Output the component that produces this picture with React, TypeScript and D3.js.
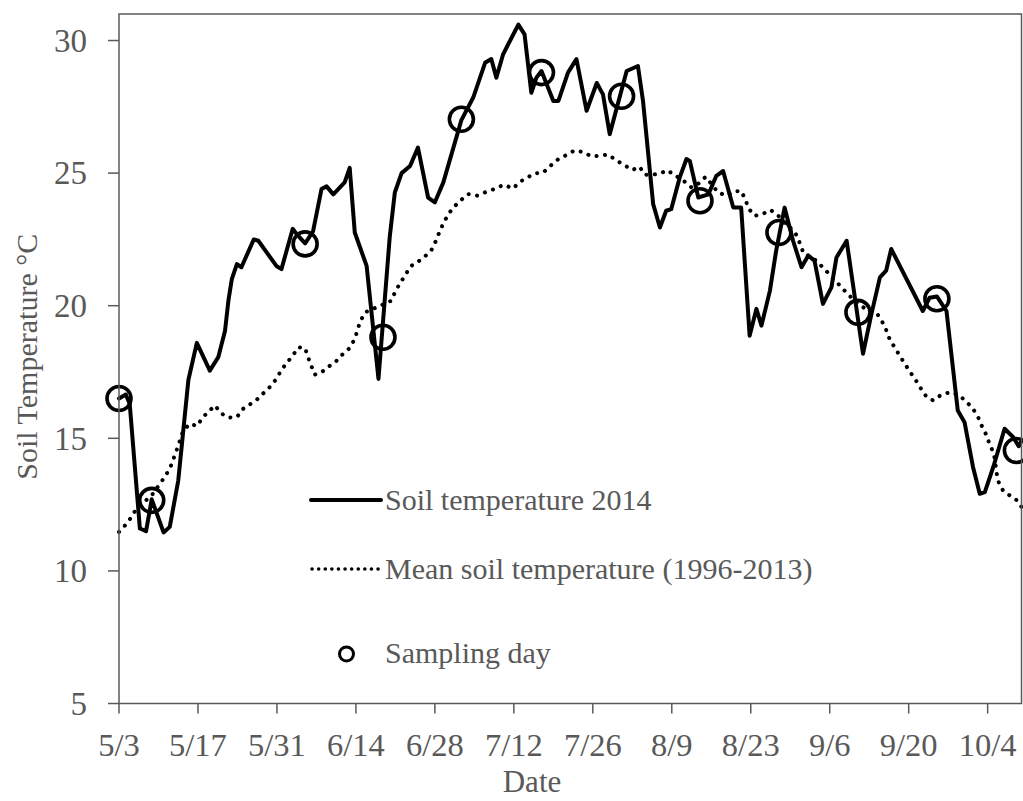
import React from "react";
import * as d3 from "d3";

// ---- data (days counted from 3 May 2014) ----
const soilDays = [0, 1.2, 1.9, 3.7, 4.8, 5.8, 7.9, 9, 10.5, 12.3, 13.8, 16.1, 17.6, 18.8, 19.4, 20, 20.9, 21.7, 23.9, 24.7, 27.9, 28.8, 30.8, 31.5, 33, 34.4, 35.9, 36.8, 38, 40, 40.9, 41.8, 43.9, 46, 48, 48.9, 50.1, 51.6, 53, 54.8, 56, 57.5, 60.7, 62.8, 64.9, 66, 66.9, 68.1, 69, 70.8, 71.9, 73.1, 74, 74.9, 77, 77.9, 79.6, 81.1, 82.9, 84.7, 85.8, 87, 90, 92, 92.9, 94.7, 95.9, 97, 97.9, 99.4, 100.6, 101.2, 102.7, 104.5, 105.9, 107.1, 108.9, 110.3, 111.8, 113, 113.9, 115.4, 116.5, 118, 119.5, 121, 122.2, 123.3, 124.8, 126.3, 127.2, 129, 131.9, 133.4, 134.9, 136, 136.9, 142.5, 143.7, 145, 146.7, 148.7, 149.9, 151.4, 152.6, 153.5, 155, 157, 158.5, 159.5, 160];
const soilTemps = [16.5, 16.65, 16.3, 11.6, 11.5, 12.7, 11.45, 11.66, 13.4, 17.2, 18.6, 17.55, 18.06, 19.06, 20.2, 21.0, 21.57, 21.45, 22.5, 22.45, 21.5, 21.38, 22.9, 22.7, 22.35, 22.8, 24.4, 24.5, 24.2, 24.65, 25.2, 22.76, 21.5, 17.24, 22.6, 24.27, 25.0, 25.27, 25.96, 24.08, 23.9, 24.65, 27.0, 27.85, 29.16, 29.3, 28.6, 29.48, 29.86, 30.6, 30.23, 28.03, 28.6, 28.85, 27.72, 27.72, 28.79, 29.3, 27.35, 28.4, 27.97, 26.47, 28.85, 29.04, 27.72, 23.83, 22.95, 23.58, 23.64, 24.83, 25.53, 25.46, 24.08, 24.2, 24.9, 25.08, 23.7, 23.7, 18.87, 19.88, 19.25, 20.57, 22.07, 23.7, 22.45, 21.45, 21.89, 21.7, 20.07, 20.69, 21.82, 22.45, 18.19, 19.69, 21.07, 21.32, 22.14, 19.8, 20.3, 20.35, 19.8, 16.05, 15.61, 13.92, 12.91, 12.97, 13.92, 15.36, 15.05, 14.7, 14.9];

const meanDays = [0, 1.1, 2.2, 3.1, 5.8, 7.9, 9, 10.2, 11.4, 12.6, 13.8, 14.9, 16.1, 17, 18.2, 19.4, 20.9, 22, 23.2, 24.4, 25.6, 26.8, 27.9, 28.8, 29.7, 30.8, 31.8, 33, 33.5, 34.7, 35.9, 37.4, 38.6, 39.7, 40.9, 41.8, 42.7, 43.6, 45.7, 48.3, 48.9, 49.8, 50.7, 51.6, 53, 54.2, 55.4, 56.2, 56.9, 57.6, 58.4, 59.4, 60.6, 61.9, 63.5, 65.2, 66.8, 68.2, 69.9, 70.9, 72.2, 73.7, 75.2, 76.5, 77.9, 79.3, 80.8, 82.3, 83.8, 85.2, 86.7, 88.1, 89.5, 91, 92.3, 93.2, 95.7, 97.2, 98.7, 100.1, 101.5, 102.7, 104, 105.3, 106.2, 107.7, 109, 110.3, 111, 111.7, 112.7, 114.1, 115.5, 116.8, 118, 119.3, 120.2, 120.8, 121.4, 122.2, 123.6, 124.9, 126.3, 127.8, 129.2, 131, 132.8, 134.3, 135.2, 136, 136.6, 137.5, 138.4, 139.3, 140.3, 141.2, 142.1, 143.1, 144.3, 145.8, 147.4, 149, 150.1, 151.3, 152.3, 153, 153.8, 154.3, 155.1, 155.8, 156.7, 157.9, 159.2, 160];
const meanTemps = [11.47, 11.72, 12.03, 12.35, 12.85, 13.48, 13.85, 14.54, 15.3, 15.55, 15.46, 15.8, 16.05, 16.24, 15.93, 15.78, 15.8, 16.11, 16.28, 16.45, 16.7, 16.95, 17.24, 17.58, 17.83, 18.12, 18.43, 18.4, 18.06, 17.4, 17.49, 17.74, 17.93, 18.18, 18.4, 18.75, 19.37, 19.75, 19.94, 20.19, 20.5, 20.84, 21.13, 21.47, 21.66, 21.85, 22.1, 22.45, 22.83, 23.14, 23.46, 23.73, 23.98, 24.21, 24.15, 24.3, 24.42, 24.56, 24.42, 24.65, 24.81, 24.99, 25.02, 25.28, 25.53, 25.68, 25.86, 25.79, 25.63, 25.65, 25.7, 25.49, 25.31, 25.12, 25.24, 24.94, 24.96, 25.11, 24.9, 24.71, 24.46, 24.6, 24.86, 24.52, 24.27, 24.15, 24.31, 24.33, 24.02, 23.64, 23.39, 23.46, 23.61, 23.42, 23.1, 22.89, 22.64, 22.3, 21.95, 21.89, 21.7, 21.42, 21.1, 20.76, 20.44, 20.07, 19.82, 19.73, 19.44, 19.09, 18.75, 18.43, 18.12, 17.81, 17.49, 17.21, 16.9, 16.58, 16.43, 16.64, 16.74, 16.62, 16.4, 16.15, 15.8, 15.45, 15.11, 14.8, 14.42, 13.41, 13.04, 12.85, 12.66, 12.41];

const sampleDays = [0, 5.8, 33, 46.8, 60.7, 74.9, 89.1, 103, 117, 131, 145, 159.1];
const sampleTemps = [16.5, 12.66, 22.33, 18.81, 27.03, 28.79, 27.9, 23.96, 22.76, 19.75, 20.26, 14.54];

const xTickLabels = ["5/3", "5/17", "5/31", "6/14", "6/28", "7/12", "7/26", "8/9", "8/23", "9/6", "9/20", "10/4"];
const yTicks = [5, 10, 15, 20, 25, 30];
const legendLabels = ["Soil temperature 2014", "Mean soil temperature (1996-2013)", "Sampling day"];

const START = new Date(2014, 4, 3);
const toDate = (d: number) => new Date(START.getTime() + d * 86400000);

export default function App() {
  const W = 1023, H = 801;
  const left = 119, right = 1021.5, top = 14, bottom = 703.5;
  const x = d3.scaleTime().domain([toDate(0), toDate(160)]).range([left, right]);
  const y = d3.scaleLinear().domain([5, 31]).range([bottom, top]);
  const font = "'Liberation Serif', 'Times New Roman', serif";
  const grey = "#595959";

  const line = d3.line<[number, number]>()
    .x((p) => x(toDate(p[0])))
    .y((p) => y(p[1]));
  const soil = line(soilDays.map((d, i) => [d, soilTemps[i]]))!;
  const mean = line(meanDays.map((d, i) => [d, meanTemps[i]]))!;

  const tickDates = xTickLabels.map((_, i) => toDate(i * 14));

  return (
    <svg width={W} height={H} style={{ position: "absolute", left: 0, top: 0, background: "#fff" }} fontFamily={font}>
      <rect x={0} y={0} width={W} height={H} fill="#fff" />
      {/* mean dotted line */}
      <path d={mean} fill="none" stroke="#000" strokeWidth={4} strokeDasharray="0.1 8.4" strokeLinecap="round" strokeLinejoin="round" />
      {/* soil 2014 */}
      <path d={soil} fill="none" stroke="#000" strokeWidth={4} strokeLinejoin="round" strokeLinecap="round" />
      {sampleDays.map((d, i) => (
        <circle key={i} cx={x(toDate(d))} cy={y(sampleTemps[i])} r={12} fill="none" stroke="#000" strokeWidth={3.6} />
      ))}
      {/* frame */}
      <rect x={left} y={top} width={right - left} height={bottom - top} fill="none" stroke={grey} strokeWidth={1.5} />
      {/* y ticks */}
      {yTicks.map((t) => (
        <g key={t}>
          <line x1={left - 11} x2={left} y1={y(t)} y2={y(t)} stroke={grey} strokeWidth={1.5} />
          <text x={left - 32} y={y(t)} dy="0.34em" textAnchor="end" fontSize={33} fill={grey}>{t}</text>
        </g>
      ))}
      {/* x ticks */}
      {tickDates.map((d, i) => (
        <g key={i}>
          <line x1={x(d)} x2={x(d)} y1={bottom} y2={bottom + 10} stroke={grey} strokeWidth={1.5} />
          <text x={x(d)} y={756} textAnchor="middle" fontSize={32.5} fill={grey}>{xTickLabels[i]}</text>
        </g>
      ))}
      <text x={532} y={792} textAnchor="middle" fontSize={31} fill={grey}>Date</text>
      <text transform={`translate(37,${(top + bottom) / 2 - 2}) rotate(-90)`} textAnchor="middle" fontSize={30} fill={grey}>Soil Temperature °C</text>
      {/* legend */}
      <line x1={311} x2={381} y1={500} y2={500} stroke="#000" strokeWidth={4} strokeLinecap="round" />
      <text x={385} y={510} fontSize={30} fill={grey}>{legendLabels[0]}</text>
      <line x1={312} x2={381} y1={569} y2={569} stroke="#000" strokeWidth={3.5} strokeDasharray="0.1 6.5" strokeLinecap="round" />
      <text x={385} y={579} fontSize={30} fill={grey}>{legendLabels[1]}</text>
      <circle cx={346.5} cy={654} r={7} fill="none" stroke="#000" strokeWidth={3} />
      <text x={385} y={663} fontSize={30} fill={grey}>{legendLabels[2]}</text>
    </svg>
  );
}
